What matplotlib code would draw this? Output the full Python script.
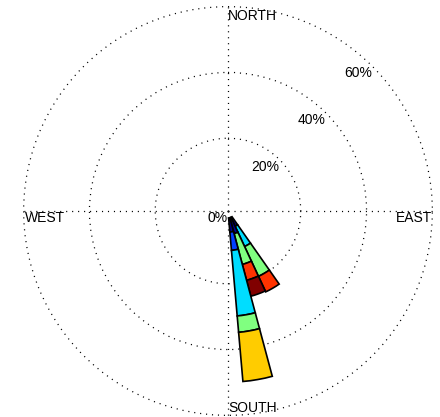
import numpy as np
import matplotlib
matplotlib.use('Agg')
import matplotlib.pyplot as plt

plt.rcParams['font.family'] = ['Liberation Sans', 'DejaVu Sans']
plt.rcParams['lines.scale_dashes'] = False

# wind directions (deg, compass) and share of time per speed class (%)
directions = [150, 160, 170]
class_colors = ['#000090', '#0040ff', '#00ddff', '#80ff80', '#ffcc00', '#ff3300', '#800000']
freq = {
    150: [3.0, 0.0, 6.8, 10.0, 0.0, 5.2, 0.0],
    160: [5.0, 0.0, 0.0, 9.7, 0.0, 5.0, 5.0],
    170: [4.3, 5.6, 20.0, 5.0, 15.0, 0.0, 0.0],
}
bin_width = 10
ring_values = [20, 40, 60]
compass_labels = ['NORTH', 'EAST', 'SOUTH', 'WEST']

hole = 2.12  # empty centre, in % units
rmax = 60.5

fig = plt.figure(figsize=(4.4, 4.17), dpi=100)
R = 206
cx, cy = 228, 417 - 211
ax = fig.add_axes([(cx - R) / 440, (cy - R) / 417, 2 * R / 440, 2 * R / 417],
                  projection='polar')
ax.set_theta_zero_location('N')
ax.set_theta_direction(-1)
ax.set_ylim(-hole, rmax)
ax.spines['polar'].set_visible(False)
ax.set_facecolor('none')

ax.set_rgrids(ring_values, labels=[''] * len(ring_values))
ax.set_thetagrids([0, 90, 180, 270], labels=[''] * 4)
ax.grid(True, color='black', linestyle=(0, (0.8, 3.5)), linewidth=0.9)

for d in directions:
    bottom = 0.0
    for val, col in zip(freq[d], class_colors):
        if val <= 0:
            continue
        ax.bar(np.deg2rad(d), val, width=np.deg2rad(bin_width), bottom=bottom,
               color=col, edgecolor='black', linewidth=1.2, zorder=3)
        bottom += val

fs = 10
ax.text(0, 59.4, compass_labels[0], ha='left', va='top', fontsize=fs)
ax.text(np.pi / 2, 59.8, compass_labels[1], ha='right', va='top', fontsize=fs)
ax.text(np.pi, 59.1, compass_labels[2], ha='left', va='baseline', fontsize=fs)
ax.text(3 * np.pi / 2, 59.6, compass_labels[3], ha='left', va='top', fontsize=fs)
ax.text(0, -hole, '0%', ha='right', va='top', fontsize=fs)
for rv in ring_values:
    ax.text(np.deg2rad(45), rv, f'{rv}%', ha='right', va='top', fontsize=fs)

fig.savefig('out.png', dpi=100)
